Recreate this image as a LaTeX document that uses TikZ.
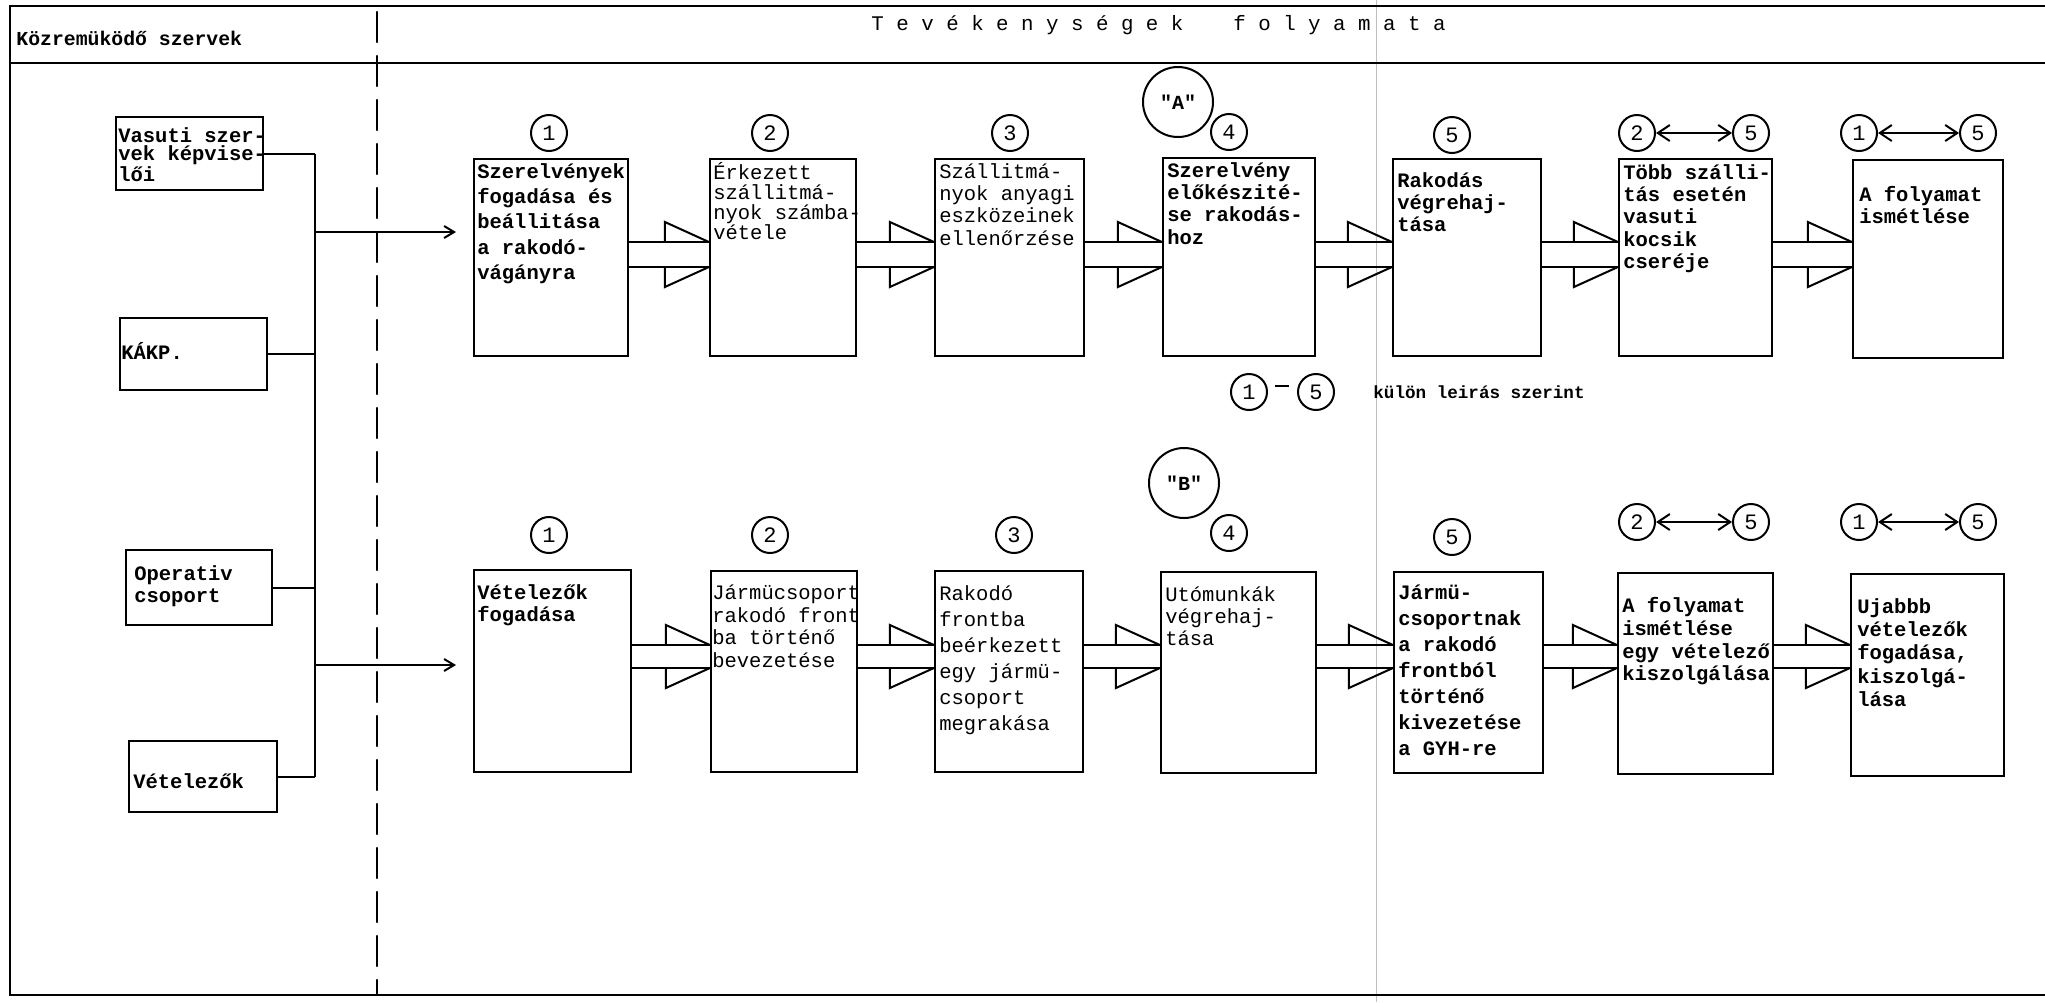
\documentclass[tikz,border=0pt]{standalone}
\usepackage{fontspec}
\setmonofont{Liberation Mono}
\usetikzlibrary{arrows.meta,fit,calc}
\newcommand\myDblArrow[4]{%
  \draw[conn] (#1.east |- #3) -- (#2.west |- #3);
  \draw[conn] (#1.east |- #4) -- (#2.west |- #4);
  \draw[conn] (#2.west |- #3) -- ++(-44,-20) -- ++(0,20);
  \draw[conn] (#2.west |- #4) -- ++(-44,20) -- ++(0,-20);
}
\begin{document}
\begin{tikzpicture}[x=0.5pt,y=-0.5pt,
  frame/.style={line width=1.2pt, line cap=round},
  conn/.style={line width=1pt},
  box/.style={draw, line width=1.1pt, inner sep=0pt},
  tx/.style={anchor=north west, inner sep=0pt, align=left,
    font=\ttfamily\fontsize{10.25}{11.2}\selectfont,
    execute at begin node={\rule{0pt}{9pt}}},
  tb/.style={tx, font=\ttfamily\bfseries\fontsize{10.25}{11.2}\selectfont},
  num/.style={draw, circle, line width=1pt, minimum size=18pt, inner sep=0pt,
    font=\ttfamily\fontsize{11}{11}\selectfont},
  big/.style={draw, circle, line width=1pt, minimum size=35pt, inner sep=0pt,
    font=\ttfamily\bfseries\fontsize{10}{10}\selectfont},
  tip/.style={-{Straight Barb[length=5pt,width=6pt]}},
  dtip/.style={{Straight Barb[length=6pt,width=8pt]}-{Straight Barb[length=6pt,width=8pt]}}
]
\useasboundingbox (0,0) rectangle (2045,1002);
\fill[white] (0,0) rectangle (2045,1002);

% paper fold
\draw[black!25, line width=0.4pt] (1376,0) -- (1376,1002);

% frame and header
\draw[frame] (10,6) -- (2045,6);
\draw[frame] (10,63) -- (2045,63);
\draw[frame] (10,6) -- (10,995) -- (2045,995);
\draw[frame, dash pattern=on 15pt off 7pt] (377,12) -- (377,995);

\node[anchor=base west, inner sep=0pt, font=\ttfamily\bfseries\fontsize{9.9}{10}\selectfont] (hleft) at (16,45) {Közremüködő szervek};
\node[anchor=base west, inner sep=0pt, font=\ttfamily\fontsize{10.4}{10}\selectfont] (hright) at (871,30)
  {T~e~v~é~k~e~n~y~s~é~g~e~k~~~~f~o~l~y~a~m~a~t~a};

% left boxes
\node[box, fit={(116,117) (263,190)}] (vas) {};
\node[tb, font=\ttfamily\bfseries\fontsize{10.25}{9}\selectfont] (vast) at ([shift={(3,11)}]vas.north west) {Vasuti szer-\\vek képvise-\\lői};
\node[box, fit={(120,318) (267,390)}] (kakp) {};
\node[tb] (kakpt) at ([shift={(2,24)}]kakp.north west) {KÁKP.};
\node[box, fit={(126,550) (272,625)}] (oper) {};
\node[tb, font=\ttfamily\bfseries\fontsize{10.25}{11}\selectfont] (opert) at ([shift={(9,16)}]oper.north west) {Operativ\\csoport};
\node[box, fit={(129,741) (277,812)}] (vet) {};
\node[tb] (vett) at ([shift={(5,30)}]vet.north west) {Vételezők};

% bus
\coordinate (busx) at (315,0);
\coordinate (inA) at (456,232);
\coordinate (inB) at (456,665);
\draw[conn] (vas.east) -- (vas.east -| busx);
\draw[conn] (kakp.east) -- (kakp.east -| busx);
\draw[conn] (oper.east) -- (oper.east -| busx);
\draw[conn] (vet.east) -- (vet.east -| busx);
\draw[conn] (vas.east -| busx) -- (vet.east -| busx);
\draw[conn, tip] (inA -| busx) -- (inA);
\draw[conn, tip] (inB -| busx) -- (inB);

% row A boxes
\node[box, fit={(474,159) (628,356)}] (a1) {};
\node[box, fit={(710,159) (856,356)}] (a2) {};
\node[box, fit={(935,159) (1084,356)}] (a3) {};
\node[box, fit={(1163,158) (1315,356)}] (a4) {};
\node[box, fit={(1393,159) (1541,356)}] (a5) {};
\node[box, fit={(1619,159) (1772,356)}] (a6) {};
\node[box, fit={(1853,160) (2003,358)}] (a7) {};

\node[tb, font=\ttfamily\bfseries\fontsize{10.25}{12.7}\selectfont] (a1t) at ([shift={(4,5)}]a1.north west) {Szerelvények\\fogadása és\\beállitása\\a rakodó-\\vágányra};
\node[tx, font=\ttfamily\fontsize{10.25}{10}\selectfont] (a2t) at ([shift={(4,4)}]a2.north west) {Érkezett\\szállitmá-\\nyok számba-\\vétele};
\node[tx] (a3t) at ([shift={(5,5)}]a3.north west) {Szállitmá-\\nyok anyagi\\eszközeinek\\ellenőrzése};
\node[tb] (a4t) at ([shift={(5,5)}]a4.north west) {Szerelvény\\előkészité-\\se rakodás-\\hoz};
\node[tb] (a5t) at ([shift={(5,14)}]a5.north west) {Rakodás\\végrehaj-\\tása};
\node[tb] (a6t) at ([shift={(5,6)}]a6.north west) {Több szálli-\\tás esetén\\vasuti\\kocsik\\cseréje};
\node[tb] (a7t) at ([shift={(7,27)}]a7.north west) {A folyamat\\ismétlése};

\coordinate (aU) at (0,242);
\coordinate (aL) at (0,267);
\myDblArrow{a1}{a2}{aU}{aL}
\myDblArrow{a2}{a3}{aU}{aL}
\myDblArrow{a3}{a4}{aU}{aL}
\myDblArrow{a4}{a5}{aU}{aL}
\myDblArrow{a5}{a6}{aU}{aL}
\myDblArrow{a6}{a7}{aU}{aL}

% row A circles
\node[num] (ca1) at (549,133) {1};
\node[num] (ca2) at (770,133) {2};
\node[num] (ca3) at (1010,133) {3};
\node[num] (ca4) at (1229,132) {4};
\node[num] (ca5) at (1452,135) {5};
\node[num] (ca6l) at (1637,133) {2};
\node[num] (ca6r) at (1751,133) {5};
\node[num] (ca7l) at (1859,133) {1};
\node[num] (ca7r) at (1978,133) {5};
\draw[conn, dtip] (ca6l) -- (ca6r);
\draw[conn, dtip] (ca7l) -- (ca7r);
\node[big] (bigA) at (1178,102) {"A"};

% legend
\node[num] (l1) at (1249,392) {1};
\node[num] (l5) at (1316,392) {5};
\draw[conn, line width=1.2pt] ($(l1.east)!0.25!(l5.west)+(0,-6)$) -- ($(l1.east)!0.72!(l5.west)+(0,-6)$);
\node[anchor=base west, inner sep=0pt, font=\ttfamily\bfseries\fontsize{8.8}{10}\selectfont] (legt) at (1373,398) {külön leirás szerint};

% row B
\node[big] (bigB) at (1184,483) {"B"};
\node[num] (cb1) at (549,535) {1};
\node[num] (cb2) at (770,535) {2};
\node[num] (cb3) at (1014,535) {3};
\node[num] (cb4) at (1229,533) {4};
\node[num] (cb5) at (1452,537) {5};
\node[num] (cb6l) at (1637,522) {2};
\node[num] (cb6r) at (1751,522) {5};
\node[num] (cb7l) at (1859,522) {1};
\node[num] (cb7r) at (1978,522) {5};
\draw[conn, dtip] (cb6l) -- (cb6r);
\draw[conn, dtip] (cb7l) -- (cb7r);

\node[box, fit={(474,570) (631,772)}] (b1) {};
\node[box, fit={(711,571) (857,772)}] (b2) {};
\node[box, fit={(935,571) (1083,772)}] (b3) {};
\node[box, fit={(1161,572) (1316,773)}] (b4) {};
\node[box, fit={(1394,572) (1543,773)}] (b5) {};
\node[box, fit={(1618,573) (1773,774)}] (b6) {};
\node[box, fit={(1851,574) (2004,776)}] (b7) {};

\node[tb] (b1t) at ([shift={(4,15)}]b1.north west) {Vételezők\\fogadása};
\node[tx] (b2t) at ([shift={(2,15)}]b2.north west) {Jármücsoport\\rakodó front\\ba történő\\bevezetése};
\node[tx, font=\ttfamily\fontsize{10.25}{13}\selectfont] (b3t) at ([shift={(5,15)}]b3.north west) {Rakodó\\frontba\\beérkezett\\egy jármü-\\csoport\\megrakása};
\node[tx] (b4t) at ([shift={(5,15)}]b4.north west) {Utómunkák\\végrehaj-\\tása};
\node[tb, font=\ttfamily\bfseries\fontsize{10.25}{13}\selectfont] (b5t) at ([shift={(5,14)}]b5.north west) {Jármü-\\csoportnak\\a rakodó\\frontból\\történő\\kivezetése\\a GYH-re};
\node[tb, font=\ttfamily\bfseries\fontsize{10.25}{11.4}\selectfont] (b6t) at ([shift={(5,25)}]b6.north west) {A folyamat\\ismétlése\\egy vételező\\kiszolgálása};
\node[tb, font=\ttfamily\bfseries\fontsize{10.25}{11.7}\selectfont] (b7t) at ([shift={(7,25)}]b7.north west) {Ujabbb\\vételezők\\fogadása,\\kiszolgá-\\lása};

\coordinate (bU) at (0,645);
\coordinate (bL) at (0,668);
\myDblArrow{b1}{b2}{bU}{bL}
\myDblArrow{b2}{b3}{bU}{bL}
\myDblArrow{b3}{b4}{bU}{bL}
\myDblArrow{b4}{b5}{bU}{bL}
\myDblArrow{b5}{b6}{bU}{bL}
\myDblArrow{b6}{b7}{bU}{bL}
\end{tikzpicture}
\end{document}
